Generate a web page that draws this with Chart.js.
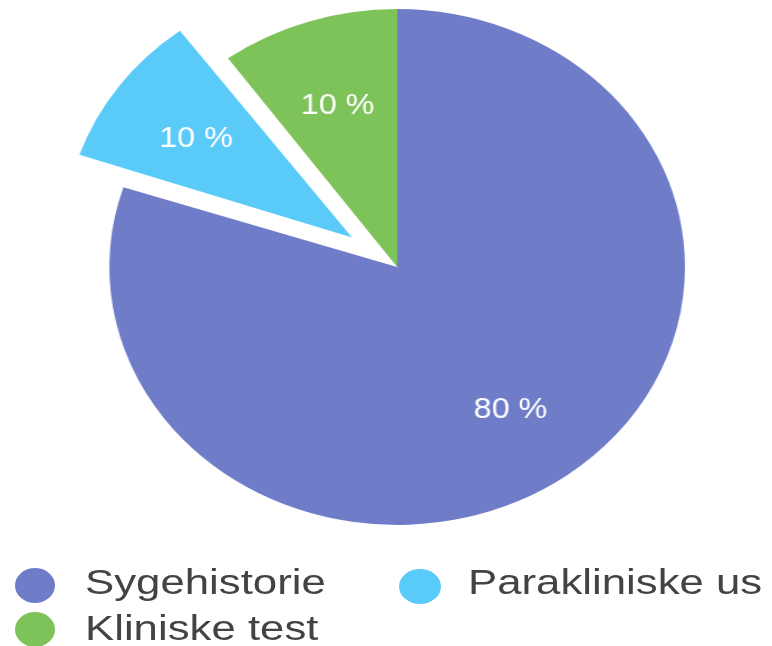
<!DOCTYPE html>
<html>
<head>
<meta charset="utf-8">
<script src="https://cdn.jsdelivr.net/npm/chart.js@4/dist/chart.umd.min.js"></script>
<style>
html, body { margin: 0; padding: 0; background: #ffffff; }
#wrap { position: relative; width: 772px; height: 646px; overflow: hidden; }
#c { position: absolute; left: 0; top: 0; }
.lg-dot { position: absolute; border-radius: 50%; }
.lg-txt { position: absolute; font-family: "Liberation Sans", Arial, Helvetica, sans-serif; font-size: 35px; line-height: 35px; color: #434343; white-space: nowrap; transform: scaleX(1.25); transform-origin: 0 0; }
</style>
</head>
<body>
<div id="wrap">
  <canvas id="c" width="692" height="646" style="width:772px;height:646px;"></canvas>
  <div id="legend"></div>
</div>
<script>
// ---- data ----
const categories = ['Sygehistorie', 'Parakliniske us', 'Kliniske test'];
const values = [80, 10, 10];
const valueLabels = values.map(v => v + ' %');
const colors = ['#6f7dc9', '#5acbf9', '#7ec35a'];

// legend item placement (page pixels)
const legendLayout = [
  { dot: [15, 568, 40, 35], text: [85, 564] },
  { dot: [399, 569, 42, 35], text: [468, 564] },
  { dot: [15, 612, 40, 35], text: [85, 610] }
];

// keep the exploded slice at the same radius as the rest of the pie
const keepRadius = {
  id: 'keepRadius',
  afterDatasetsUpdate(chart) {
    const meta = chart.getDatasetMeta(0);
    const R = meta.controller.outerRadius;
    meta.data.forEach(arc => {
      const shift = (arc.options.offset || 0) / 4;
      if (shift) {
        const fix = 1 - Math.sin(Math.min(Math.PI, arc.circumference || 0));
        arc.outerRadius = R - shift * fix;
      }
    });
  }
};

const sliceLabels = {
  id: 'sliceLabels',
  afterDatasetsDraw(chart) {
    const meta = chart.getDatasetMeta(0);
    const R = meta.controller.outerRadius;
    const ctx = chart.ctx;
    ctx.save();
    ctx.fillStyle = '#ffffff';
    ctx.font = '29px "Liberation Sans", Arial, Helvetica, sans-serif';
    ctx.textAlign = 'center';
    ctx.textBaseline = 'middle';
    meta.data.forEach((arc, i) => {
      const p = arc.getProps(['x', 'y', 'startAngle', 'endAngle'], true);
      const mid = (p.startAngle + p.endAngle) / 2;
      const shift = (arc.options.offset || 0) / 4;
      const r = shift + R * 0.67;
      ctx.fillText(valueLabels[i], p.x + Math.cos(mid) * r, p.y + Math.sin(mid) * r + 3);
    });
    ctx.restore();
  }
};

const htmlLegend = {
  id: 'htmlLegend',
  afterUpdate(chart) {
    const box = document.getElementById('legend');
    box.innerHTML = '';
    const items = chart.options.plugins.legend.labels.generateLabels(chart);
    items.forEach((item, i) => {
      const L = legendLayout[i];
      const dot = document.createElement('div');
      dot.className = 'lg-dot';
      dot.style.left = L.dot[0] + 'px';
      dot.style.top = L.dot[1] + 'px';
      dot.style.width = L.dot[2] + 'px';
      dot.style.height = L.dot[3] + 'px';
      dot.style.background = item.fillStyle;
      const txt = document.createElement('div');
      txt.className = 'lg-txt';
      txt.style.left = L.text[0] + 'px';
      txt.style.top = L.text[1] + 'px';
      txt.textContent = item.text;
      box.appendChild(dot);
      box.appendChild(txt);
    });
  }
};

new Chart(document.getElementById('c'), {
  type: 'pie',
  data: {
    labels: categories,
    datasets: [{
      data: values,
      backgroundColor: colors,
      borderWidth: 0,
      offset: [0, 200, 0]
    }]
  },
  options: {
    responsive: false,
    animation: false,
    radius: 258,
    layout: { padding: { left: 20, right: 0, top: 0, bottom: 112 } },
    plugins: {
      legend: { display: false },
      tooltip: { enabled: false }
    }
  },
  plugins: [keepRadius, sliceLabels, htmlLegend]
});
</script>
</body>
</html>
